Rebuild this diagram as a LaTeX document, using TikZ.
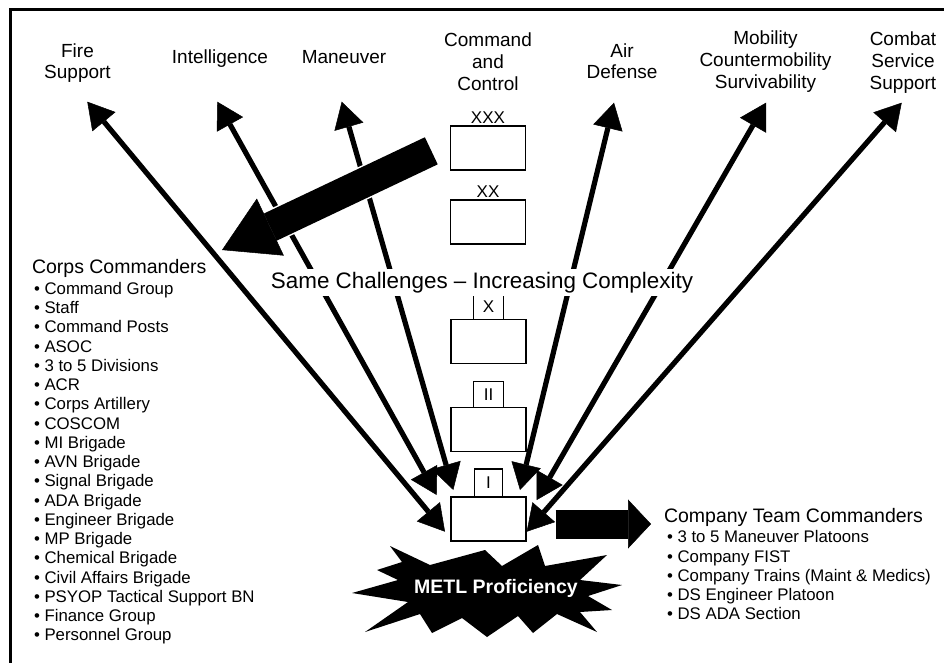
\documentclass[tikz,border=0pt]{standalone}
\usepackage{fontspec}
\setmainfont{Liberation Sans}
\usetikzlibrary{arrows.meta,positioning,calc}

\begin{document}
\begin{tikzpicture}[
		x=1pt, y=-1pt,
		every node/.style={inner sep=0pt, outer sep=0pt},
		every label/.append style={inner sep=2.5pt, font=\fontsize{17}{17}\selectfont},
		topic/.style={align=center, anchor=north, font=\fontsize{19}{21.7}\selectfont},
		echelon/.style={draw, line width=1.6pt, minimum width=75pt, minimum height=44pt},
		tag/.style={draw, line width=1.6pt, minimum width=30pt, minimum height=26pt, font=\fontsize{17}{17}\selectfont},
		head/.style={anchor=base west, font=\fontsize{19.5}{21}\selectfont},
		item/.style={anchor=base west, font=\fontsize{16.8}{19}\selectfont},
		bos/.style={line width=5.2pt, >={Triangle[length=26pt, width=30pt, line width=0.5pt]}, <->}
	]
  \useasboundingbox (0,0) rectangle (944,662);
  \draw [line width=3pt] (10,9) rectangle (980,700);

  % battlefield operating systems
  \node (fs) [topic] at (77.5,43.3) {Fire\\Support};
  \node (intel) [topic] at (220,50) {Intelligence};
  \node (man) [topic] at (344,50) {Maneuver};
  \node (c2) [topic] at (488,33) {Command\\and\\Control};
  \node (ad) [topic] at (622,43.3) {Air\\Defense};
  \node (mcs) [topic] at (765.5,31) {Mobility\\Countermobility\\Survivability};
  \node (css) [topic] at (903,32) {Combat\\Service\\Support};

  % echelons
  \node (xxx) [echelon, label=above:XXX] at (488,148) {};
  \node (xx) [echelon, label=above:XX] at (488,222) {};
  \node (x) [echelon] at (488.5,341.5) {};
  \node (xtag) [tag, above=0pt of x] {X};
  \node (ii) [echelon] at (488.5,429.5) {};
  \node (iitag) [tag, above=0pt of ii] {II};
  \node (i) [echelon] at (488.5,519) {};
  \node (itag) [tag, above=0pt of i, minimum width=28pt, minimum height=28pt] {I};

  \coordinate (fs-top) at (87.3,101.7);
  \coordinate (fs-bot) at (445,531.7);
  \coordinate (intel-top) at (217.3,101.7);
  \coordinate (intel-bot) at (436.7,495);
  \coordinate (man-top) at (341.7,101.7);
  \coordinate (man-bot) at (453.3,490);
  \coordinate (ad-top) at (614,102.7);
  \coordinate (ad-bot) at (520,490);
  \coordinate (mcs-top) at (766,102.7);
  \coordinate (mcs-bot) at (536.7,500);
  \coordinate (css-top) at (901.7,102.7);
  \coordinate (css-bot) at (526.7,531.7);
  \draw [bos] (fs-bot) -- (fs-top);
  \draw [bos] (intel-bot) -- (intel-top);
  \draw [bos] (man-bot) -- (man-top);
  \draw [bos] (ad-bot) -- (ad-top);
  \draw [bos] (mcs-bot) -- (mcs-top);
  \draw [bos] (css-bot) -- (css-top);

  \node (same) [anchor=base, fill=white, inner sep=3pt, font=\fontsize{22.4}{24}\selectfont] at (482,288.3) {Same Challenges – Increasing Complexity};

  % corps side
  \coordinate (corps-tail) at (431.3,150.8);
  \coordinate (corps-tip) at (222,250);
  \draw [white, line width=33pt] ($(corps-tail)!1.5pt!(corps-tip)$) -- ($(corps-tip)!58pt!(corps-tail)$);
  \draw [line width=30pt, -{Triangle[length=53.5pt, width=63pt, line width=0.5pt]}] (corps-tail) -- (corps-tip);
  \node (corps) [head] at (32,273.3) {Corps Commanders};
  \foreach \what [count=\i] in {Command Group, Staff, Command Posts, ASOC, 3 to 5 Divisions, ACR,
      Corps Artillery, COSCOM, MI Brigade, AVN Brigade, Signal Brigade, ADA Brigade,
      Engineer Brigade, MP Brigade, Chemical Brigade, Civil Affairs Brigade,
      PSYOP Tactical Support BN, Finance Group, Personnel Group}
    \node (corps\i) [item] at (34,275.05+19.25*\i) {\textbullet\ \what};

  % company side
  \coordinate (team-tail) at (555.7,524);
  \coordinate (team-tip) at (651,524);
  \draw [line width=29pt, -{Triangle[length=23pt, width=49pt, line width=0.5pt]}] (team-tail) -- (team-tip);
  \node (team) [head] at (664,522.5) {Company Team Commanders};
  \foreach \what [count=\i] in {3 to 5 Maneuver Platoons, Company FIST,
      Company Trains (Maint \& Medics), DS Engineer Platoon, DS ADA Section}
    \node (team\i) [item] at (667,523.4+19.3*\i) {\textbullet\ \what};

  % starburst
  \fill (390,546) -- (430,565) -- (485,550) -- (502,566) -- (538,545) -- (545,566)
    -- (607,555) -- (580,580) -- (622,585) -- (588,596) -- (612,610) -- (580,612)
    -- (597,632) -- (557,614) -- (533,633) -- (518,616) -- (487,637) -- (462,618)
    -- (432,633) -- (420,614) -- (365,632) -- (408,602) -- (352,593) -- (398,580)
    -- (377,570) -- (402,562) -- cycle;
  \node (metl) [anchor=base, text=white, font=\bfseries\fontsize{19.5}{20}\selectfont] at (496,593.5) {METL Proficiency};
\end{tikzpicture}
\end{document}
